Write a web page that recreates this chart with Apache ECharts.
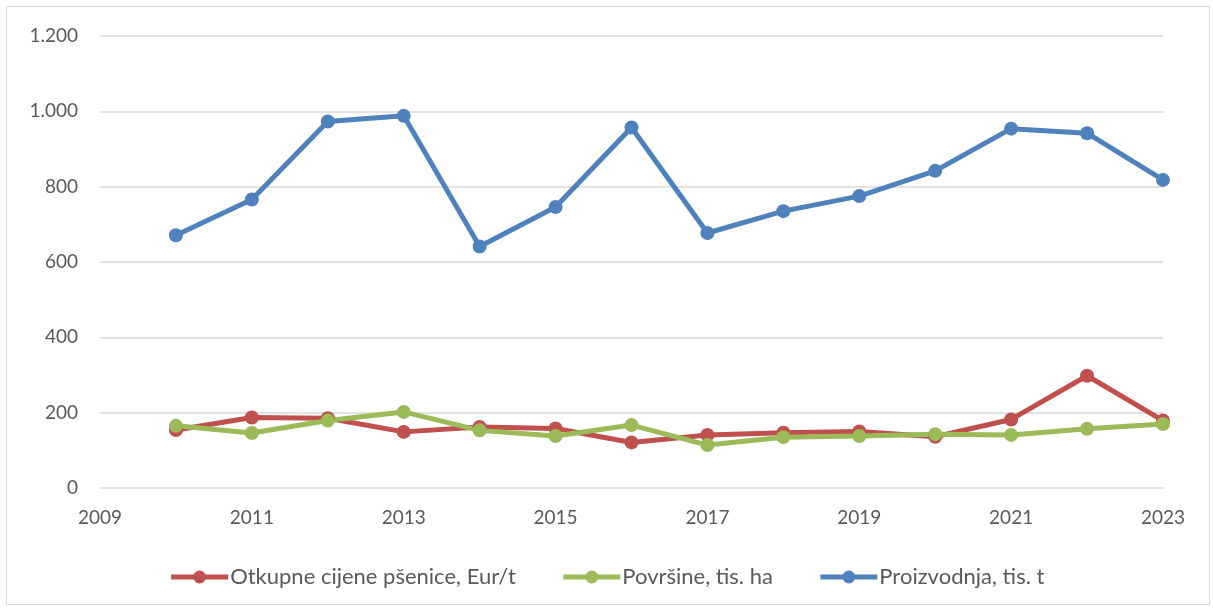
<!DOCTYPE html>
<html>
<head>
<meta charset="utf-8">
<script src="https://cdn.jsdelivr.net/npm/echarts@6/dist/echarts.min.js"></script>
<style>
  html, body { margin: 0; padding: 0; background: #fff; }
  #chart { width: 1213px; height: 608px; }
</style>
</head>
<body>
<div id="chart"></div>
<script>
// godine
const years = [2010, 2011, 2012, 2013, 2014, 2015, 2016, 2017, 2018, 2019, 2020, 2021, 2022, 2023]
// serije
const cijene = [154, 187, 185, 149, 162, 158, 121, 141, 147, 150, 136, 182, 298, 179]
const povrsine = [165, 146, 179, 202, 153, 138, 167, 114, 135, 138, 143, 141, 157, 170]
const proizvodnja = [671, 766, 973, 988, 641, 746, 957, 677, 735, 775, 842, 954, 942, 818]
const seriesNames = ['Otkupne cijene pšenice, Eur/t', 'Površine, tis. ha', 'Proizvodnja, tis. t']
const colors = ['#C0504D', '#9BBB59', '#4F81BD']

const pairs = arr => years.map((y, i) => [y, arr[i]])

const chart = echarts.init(document.getElementById('chart'))
const font = 'Lato, "Open Sans", sans-serif'

chart.setOption({
  animation: false,
  textStyle: { fontFamily: font },
  graphic: [
    {
      type: 'rect',
      shape: { x: 6.5, y: 6.5, width: 1203, height: 598 },
      style: { fill: null, stroke: '#d9d9d9', lineWidth: 1 },
      silent: true
    }
  ],
  grid: { left: 100, right: 50, top: 36, bottom: 120, containLabel: false },
  xAxis: {
    type: 'value',
    min: 2009,
    max: 2023,
    interval: 2,
    axisLine: { show: false },
    axisTick: { show: false },
    splitLine: { show: false },
    axisLabel: {
      color: '#595959',
      fontSize: 19,
      margin: 20,
      fontFamily: font,
      formatter: v => String(v)
    }
  },
  yAxis: {
    type: 'value',
    min: 0,
    max: 1200,
    interval: 200,
    axisLine: { show: false },
    axisTick: { show: false },
    splitLine: { lineStyle: { color: '#d9d9d9', width: 1.5 } },
    axisLabel: {
      color: '#595959',
      fontSize: 19,
      margin: 22,
      fontFamily: font,
      formatter: v => v.toLocaleString('de-DE')
    }
  },
  legend: {
    top: 561,
    left: 'center',
    itemWidth: 57,
    itemHeight: 16,
    itemGap: 45,
    lineStyle: { width: 5 },
    textStyle: { color: '#595959', fontSize: 22, fontFamily: font, padding: [0, 0, 0, -3] },
    data: seriesNames
  },
  series: [cijene, povrsine, proizvodnja].map((arr, i) => ({
    name: seriesNames[i],
    type: 'line',
    data: pairs(arr),
    color: colors[i],
    symbol: 'circle',
    symbolSize: 14,
    lineStyle: { width: 5, color: colors[i] },
    itemStyle: { color: colors[i] }
  }))
})
</script>
</body>
</html>
